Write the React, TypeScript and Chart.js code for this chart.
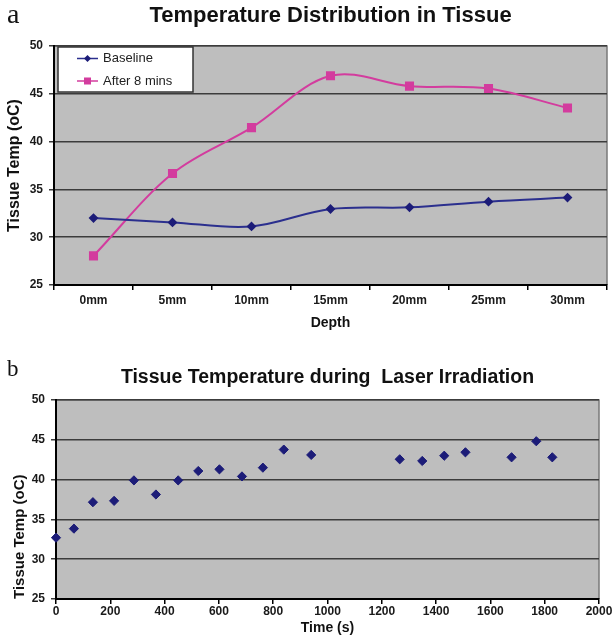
import React, { useEffect, useRef } from "react";
import { Chart, registerables } from "chart.js";

Chart.register(...registerables);

// ---------- Data ----------
const depthLabels = ["0mm", "5mm", "10mm", "15mm", "20mm", "25mm", "30mm"];
const baselineTemps = [32.0, 31.55, 31.13, 32.95, 33.12, 33.72, 34.14];
const after8Temps = [28.05, 36.66, 41.46, 46.88, 45.8, 45.55, 43.52];

const timeSeconds = [0, 66, 136, 214, 287, 368, 450, 524, 602, 685, 762, 839, 940, 1266, 1349, 1430, 1508, 1678, 1769, 1828];
const laserTemps = [32.7, 33.84, 37.16, 37.33, 39.9, 38.13, 39.9, 41.08, 41.29, 40.4, 41.5, 43.77, 43.1, 42.55, 42.34, 43.0, 43.43, 42.8, 44.82, 42.8];

const seriesNames = ["Baseline", "After 8 mins"];
const titleA = "Temperature Distribution in Tissue";
const titleB = "Tissue Temperature during  Laser Irradiation";
const yTitle = "Tissue Temp (oC)";
const xTitleA = "Depth";
const xTitleB = "Time (s)";

const FONT = "'Liberation Sans', Arial, sans-serif";
const PLOT_BG = "#BEBEBE";
const GRID = "#3c3c3c";
const BLUE = "#2B2F8E";
const BLUE_MARK = "#1C1C78";
const PINK = "#D33C9E";

const bgPlugin = {
  id: "plotBg",
  beforeDraw(chart: any) {
    const { ctx, chartArea: a } = chart;
    ctx.save();
    ctx.fillStyle = PLOT_BG;
    ctx.fillRect(a.left, a.top, a.right - a.left, a.bottom - a.top);
    ctx.strokeStyle = "#7a7a7a";
    ctx.lineWidth = 1.5;
    ctx.beginPath();
    ctx.moveTo(a.left, a.top);
    ctx.lineTo(a.right, a.top);
    ctx.lineTo(a.right, a.bottom);
    ctx.stroke();
    ctx.restore();
  },
};

const legendPlugin = {
  id: "insideLegend",
  afterDraw(chart: any) {
    const { ctx, chartArea: a } = chart;
    const x0 = a.left + 4;
    const y0 = a.top + 1;
    const w = 135;
    const h = 45;
    ctx.save();
    ctx.fillStyle = "#ffffff";
    ctx.fillRect(x0, y0, w, h);
    ctx.strokeStyle = "#333";
    ctx.lineWidth = 1.5;
    ctx.strokeRect(x0, y0, w, h);
    chart.data.datasets.forEach((ds: any, i: number) => {
      const cy = y0 + 11.5 + i * 22.5;
      ctx.strokeStyle = ds.borderColor;
      ctx.lineWidth = 1.5;
      ctx.beginPath();
      ctx.moveTo(x0 + 19, cy);
      ctx.lineTo(x0 + 40, cy);
      ctx.stroke();
      ctx.fillStyle = ds.pointBackgroundColor;
      const cx = x0 + 29.5;
      if (ds.pointStyle === "rect") {
        ctx.fillRect(cx - 3.5, cy - 3.5, 7, 7);
      } else {
        ctx.beginPath();
        ctx.moveTo(cx, cy - 3.5);
        ctx.lineTo(cx + 3.5, cy);
        ctx.lineTo(cx, cy + 3.5);
        ctx.lineTo(cx - 3.5, cy);
        ctx.closePath();
        ctx.fill();
      }
      ctx.fillStyle = "#222";
      ctx.font = `13px ${FONT}`;
      ctx.textBaseline = "middle";
      ctx.textAlign = "left";
      ctx.fillText(ds.label, x0 + 45, cy);
    });
    ctx.restore();
  },
};

function ChartA() {
  const ref = useRef<HTMLCanvasElement>(null);
  useEffect(() => {
    const chart = new Chart(ref.current as HTMLCanvasElement, {
      type: "line",
      data: {
        labels: depthLabels,
        datasets: [
          {
            label: seriesNames[0],
            data: baselineTemps,
            borderColor: BLUE,
            backgroundColor: BLUE_MARK,
            pointBackgroundColor: BLUE_MARK,
            pointBorderColor: BLUE_MARK,
            pointStyle: "rectRot",
            pointRadius: 3.5,
            borderWidth: 2,
            tension: 0.35,
          },
          {
            label: seriesNames[1],
            data: after8Temps,
            borderColor: PINK,
            backgroundColor: PINK,
            pointBackgroundColor: PINK,
            pointBorderColor: PINK,
            pointStyle: "rect",
            pointRadius: 5,
            borderWidth: 2,
            tension: 0.35,
          },
        ],
      } as any,
      options: {
        animation: false,
        responsive: false,
        layout: { padding: { left: 0, right: 6, top: 0, bottom: 0 } },
        plugins: {
          legend: { display: false },
          tooltip: { enabled: false },
          title: {
            display: true,
            text: titleA,
            fullSize: false,
            color: "#111",
            font: { family: FONT, size: 22, weight: "bold", lineHeight: 1.2 },
            padding: { top: 3, bottom: 16.6 },
          },
        },
        scales: {
          x: {
            type: "category",
            offset: true,
            grid: { offset: true, drawOnChartArea: false, drawTicks: true, tickLength: 5, color: "#000", lineWidth: 1.5 },
            border: { color: "#000", width: 2 },
            ticks: { color: "#1a1a1a", padding: 3, font: { family: FONT, size: 12, weight: "bold" }, maxRotation: 0 },
            title: {
              display: true,
              text: xTitleA,
              color: "#111",
              font: { family: FONT, size: 14, weight: "bold", lineHeight: 1.2 },
              padding: { top: 0, bottom: 8 },
            },
            afterFit(scale: any) {
              scale.height = 55;
            },
          },
          y: {
            type: "linear",
            min: 25,
            max: 50,
            ticks: { stepSize: 5, color: "#1a1a1a", padding: 6, font: { family: FONT, size: 12, weight: "bold" } },
            grid: { color: GRID, lineWidth: 1.5, tickLength: 5, drawTicks: true },
            border: { color: "#000", width: 2 },
            title: {
              display: true,
              text: yTitle,
              color: "#111",
              font: { family: FONT, size: 16, weight: "bold", lineHeight: 1.2 },
              padding: { top: 5.4, bottom: 0 },
            },
            afterFit(scale: any) {
              scale.width = 54;
            },
          },
        },
      } as any,
      plugins: [bgPlugin, legendPlugin],
    });
    return () => chart.destroy();
  }, []);
  return <canvas ref={ref} width={614} height={340} style={{ display: "block" }} />;
}

function ChartB() {
  const ref = useRef<HTMLCanvasElement>(null);
  useEffect(() => {
    const chart = new Chart(ref.current as HTMLCanvasElement, {
      type: "scatter",
      data: {
        datasets: [
          {
            label: "Tissue Temp",
            data: timeSeconds.map((t, i) => ({ x: t, y: laserTemps[i] })),
            backgroundColor: BLUE_MARK,
            borderColor: BLUE_MARK,
            pointStyle: "rectRot",
            pointRadius: 4.6,
            showLine: false,
            clip: false,
          },
        ],
      } as any,
      options: {
        animation: false,
        responsive: false,
        layout: { padding: { left: 0, right: 15, top: 0, bottom: 0 } },
        plugins: {
          legend: { display: false },
          tooltip: { enabled: false },
          title: {
            display: true,
            text: titleB,
            fullSize: false,
            color: "#111",
            font: { family: FONT, size: 19.5, weight: "bold", lineHeight: 1.2 },
            padding: { top: 26.3, bottom: 10.3 },
          },
        },
        scales: {
          x: {
            type: "linear",
            min: 0,
            max: 2000,
            ticks: {
              stepSize: 200,
              color: "#1a1a1a",
              padding: 0,
              font: { family: FONT, size: 12, weight: "bold" },
              maxRotation: 0,
              callback: (v: any) => String(v),
            },
            grid: { drawOnChartArea: false, drawTicks: true, tickLength: 5, color: "#000", lineWidth: 1.5 },
            border: { color: "#000", width: 2 },
            title: {
              display: true,
              text: xTitleB,
              color: "#111",
              font: { family: FONT, size: 14, weight: "bold", lineHeight: 1.2 },
              padding: { top: 0, bottom: 1.6 },
            },
            afterFit(scale: any) {
              scale.height = 39;
            },
          },
          y: {
            type: "linear",
            min: 25,
            max: 50,
            ticks: { stepSize: 5, color: "#1a1a1a", padding: 6, font: { family: FONT, size: 12, weight: "bold" } },
            grid: { color: GRID, lineWidth: 1.5, tickLength: 5, drawTicks: true },
            border: { color: "#000", width: 2 },
            title: {
              display: true,
              text: yTitle,
              align: "start",
              color: "#111",
              font: { family: FONT, size: 15, weight: "bold", lineHeight: 1.2 },
              padding: { top: 11, bottom: 0 },
            },
            afterFit(scale: any) {
              scale.width = 56;
            },
          },
        },
      } as any,
      plugins: [bgPlugin],
    });
    return () => chart.destroy();
  }, []);
  return <canvas ref={ref} width={614} height={298} style={{ display: "block" }} />;
}

export default function App() {
  return (
    <div style={{ position: "absolute", left: 0, top: 0, width: 614, height: 638, background: "#fff", overflow: "hidden" }}>
      <div style={{ position: "absolute", left: 0, top: 0 }}>
        <ChartA />
      </div>
      <div style={{ position: "absolute", left: 0, top: 340 }}>
        <ChartB />
      </div>
      <div style={{ position: "absolute", left: 7, top: 0, fontFamily: "'Liberation Serif', 'Times New Roman', serif", fontSize: 28, lineHeight: 1, color: "#111" }}>a</div>
      <div style={{ position: "absolute", left: 7, top: 357, fontFamily: "'Liberation Serif', 'Times New Roman', serif", fontSize: 23, lineHeight: 1, color: "#111" }}>b</div>
    </div>
  );
}
